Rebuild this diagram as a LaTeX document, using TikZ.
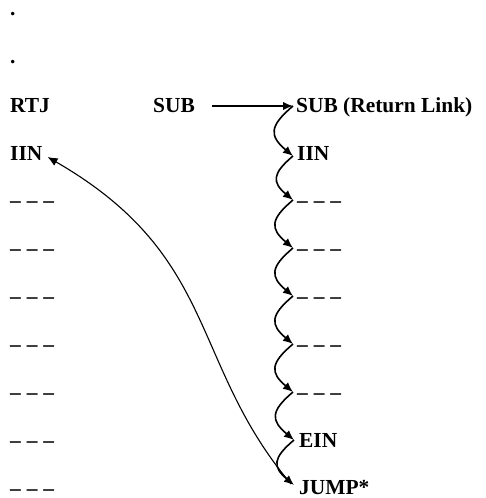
\documentclass[tikz,border=0pt]{standalone}
\usepackage{fontspec}
\setmainfont{Liberation Serif}
\usetikzlibrary{arrows.meta}

\newcommand{\dashrow}{–\hspace{0.5bp} –\hspace{0.5bp} –}

\begin{document}
\begin{tikzpicture}[x=1bp, y=1bp,
    every node/.style={inner sep=0pt, anchor=west, font=\fontsize{21.5}{21.5}\selectfont\bfseries, text height=14bp, text depth=0pt},
    tip/.style={-{Latex[length=10bp,width=8.5bp]}, line width=1.6bp},
    hop/.style={tip, out=220, in=140, looseness=1.6}]
            \useasboundingbox (0,0) rectangle (486,-498);

            \node[anchor=base west] (dotA) at (10,-16) {.};
            \node[anchor=base west] (dotB) at (10,-64) {.};

            % calling side
            \node (rtj) at (10,-106) {RTJ};
            \node (iinL) at (10,-154) {IIN};
            \node (l1) at (10,-200) {\dashrow};
            \node (l2) at (10,-248) {\dashrow};
            \node (l3) at (10,-296) {\dashrow};
            \node (l4) at (10,-344) {\dashrow};
            \node (l5) at (10,-392) {\dashrow};
            \node (l6) at (10,-440) {\dashrow};
            \node (l7) at (10,-488) {\dashrow};

            \node (subA) at (153,-106) {SUB};

            % subroutine
            \node (subB) at (296,-106) {SUB (Return Link)};
            \node (iinR) at (297,-154) {IIN};
            \node (r1) at (297,-200) {\dashrow};
            \node (r2) at (297,-248) {\dashrow};
            \node (r3) at (297,-296) {\dashrow};
            \node (r4) at (297,-344) {\dashrow};
            \node (r5) at (297,-392) {\dashrow};
            \node (ein) at (299,-440) {EIN};
            \node (jump) at (299,-487) {JUMP*};

            \draw[tip] ([xshift=17bp]subA.east) -- ([xshift=-3bp]subB.west);

            \draw[hop] ([xshift=-3bp]subB.west) to ([xshift=-4bp,yshift=-2bp]iinR.west);
            \draw[hop] ([xshift=-4bp,yshift=-2bp]iinR.west) to ([xshift=-4bp]r1.west);
            \draw[hop] ([xshift=-4bp]r1.west) to ([xshift=-4bp]r2.west);
            \draw[hop] ([xshift=-4bp]r2.west) to ([xshift=-4bp]r3.west);
            \draw[hop] ([xshift=-4bp]r3.west) to ([xshift=-4bp]r4.west);
            \draw[hop] ([xshift=-4bp]r4.west) to ([xshift=-4bp]r5.west);
            \draw[hop] ([xshift=-4bp]r5.west) to ([xshift=-5bp]ein.west);
            \draw[hop] ([xshift=-5bp]ein.west) to ([xshift=-5bp,yshift=2bp]jump.west);

            % jump back to the calling side
            \draw[tip, line width=1.1bp] ([xshift=-8bp,yshift=3bp]jump.west) to[out=130, in=-30, in looseness=1.25] ([xshift=5bp,yshift=-3bp]iinL.east);
\end{tikzpicture}
\end{document}
